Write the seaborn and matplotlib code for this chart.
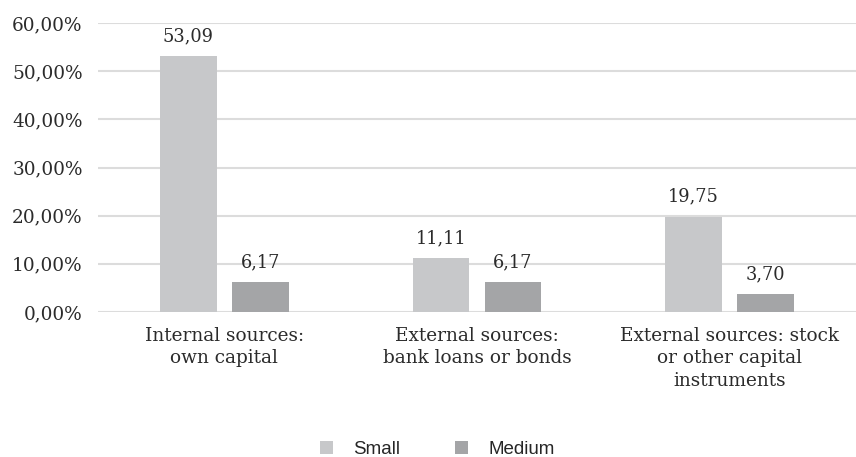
import matplotlib
matplotlib.use("Agg")
import matplotlib.pyplot as plt
from matplotlib.ticker import FuncFormatter, MultipleLocator
from matplotlib.patches import Patch
import seaborn as sns
import pandas as pd

categories = [
    "Internal sources:\nown capital",
    "External sources:\nbank loans or bonds",
    "External sources: stock\nor other capital\ninstruments",
]
small = [53.09, 11.11, 19.75]
medium = [6.17, 6.17, 3.70]
series_names = ["Small", "Medium"]
colors = ["#c7c8ca", "#a4a5a7"]

df = pd.DataFrame({
    "category": categories * 2,
    "value": small + medium,
    "size": [series_names[0]] * 3 + [series_names[1]] * 3,
})

sns.set_theme(style="white")
plt.rcParams["font.family"] = ["DejaVu Serif"]

fig = plt.figure(figsize=(8.56, 4.57), dpi=100)
ax = fig.add_axes([98 / 856, (457 - 312) / 457, 1 - 98 / 856, (312 - 23) / 457])

sns.barplot(data=df, x="category", y="value", hue="size", order=categories,
            hue_order=series_names, palette=colors, width=0.57, gap=0.21,
            saturation=1, ax=ax, legend=False, zorder=3, linewidth=0)

for container in ax.containers:
    labels = [f"{b.get_height():.2f}".replace(".", ",") for b in container]
    ax.bar_label(container, labels=labels, padding=8, fontsize=12.8, color="#2b2b2b")

ax.set_xlim(-0.5, 2.5)
ax.set_ylim(0, 60)
ax.yaxis.set_major_locator(MultipleLocator(10))
ax.yaxis.set_major_formatter(FuncFormatter(lambda v, p: f"{v:.2f}%".replace(".", ",")))
ax.grid(axis="y", color="#dcdcdc", linewidth=1.5, zorder=0)
ax.set_axisbelow(True)
for s in ax.spines.values():
    s.set_visible(False)
ax.set_xlabel("")
ax.set_ylabel("")
ax.tick_params(axis="y", length=0, pad=11, labelsize=13.3, labelcolor="#2b2b2b")
ax.tick_params(axis="x", length=0, pad=11, labelsize=13.3, labelcolor="#2b2b2b")
for t in ax.get_xticklabels():
    t.set_linespacing(1.3)

handles = [Patch(facecolor=c, edgecolor="none") for c in colors]
fig.legend(handles, series_names, loc="lower center", bbox_to_anchor=(0.511, -0.04),
           ncol=2, frameon=False, handlelength=0.7, handleheight=0.7,
           columnspacing=2.9, handletextpad=1.1,
           prop={"family": "Liberation Sans", "size": 13.5})

fig.savefig("out.png", dpi=100)
